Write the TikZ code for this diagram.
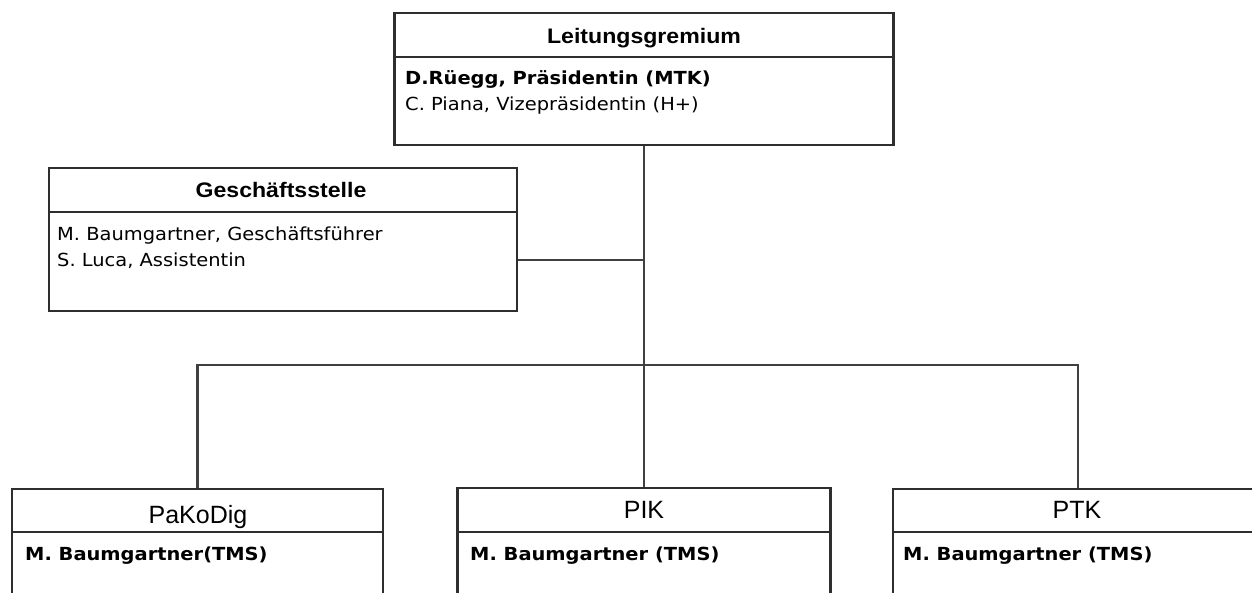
\documentclass[tikz,border=0pt]{standalone}
\usepackage{fontspec}
\setmainfont{DejaVu Sans}
\newfontfamily\hdfont[FakeStretch=1.1]{Liberation Sans}
\newfontfamily\ttlfont{Liberation Sans}
\newfontfamily\bdfont[FakeStretch=1.08]{DejaVu Sans}
\begin{document}
\begin{tikzpicture}[x=1pt,y=-1pt,
  box/.style={draw=black!82, line width=2.5pt, inner sep=0pt, fill=white},
  divline/.style={draw=black!82, line width=2.5pt},
  conn/.style={draw=black!75, line width=2.3pt},
  hdtext/.style={anchor=base, inner sep=0pt, font=\hdfont\bfseries\fontsize{21}{24}\selectfont},
  ttltext/.style={anchor=base, inner sep=0pt, font=\ttlfont\fontsize{25}{28}\selectfont},
  bodyb/.style={anchor=base west, inner sep=0pt, font=\bdfont\bfseries\fontsize{18}{22}\selectfont},
  bodyr/.style={anchor=base west, inner sep=0pt, font=\bdfont\fontsize{18}{22}\selectfont}]
\useasboundingbox (0,0) rectangle (1252,592);
\fill[white] (0,0) rectangle (1252,592);
\clip (0,0) rectangle (1252,592);

\coordinate (j1) at (644,260);
\coordinate (bus) at (644,365);

% boxes
\node[box, minimum width=499pt, minimum height=132pt] (lg) at (644,79) {};
\node[box, minimum width=468pt, minimum height=143pt] (gs) at (283,239.5) {};
\node[box, minimum width=371pt, minimum height=152pt] (pk) at (197.5,565) {};
\node[box, minimum width=373pt, minimum height=152pt] (pik) at (644,564) {};
\node[box, minimum width=370pt, minimum height=152pt] (ptk) at (1078,565) {};

% connectors
\draw[conn] (lg.south) -- (lg.south |- pik.north);
\draw[conn] (j1) -- (j1 -| gs.east);
\draw[conn] (pk.north) |- (bus) -| (ptk.north);

% dividers
\draw[divline] (lg.west |- 0,57) -- (lg.east |- 0,57);
\draw[divline] (gs.west |- 0,212) -- (gs.east |- 0,212);
\draw[divline] (pk.west |- 0,532) -- (pk.east |- 0,532);
\draw[divline] (pik.west |- 0,532) -- (pik.east |- 0,532);
\draw[divline] (ptk.west |- 0,532) -- (ptk.east |- 0,532);

% texts
\node[hdtext] (lgt) at (644,43) {Leitungsgremium};
\node[bodyb] (lg1) at (405,84) {D.Rüegg, Präsidentin (MTK)};
\node[bodyr] (lg2) at (405,110) {C. Piana, Vizepräsidentin (H+)};

\node[hdtext] (gst) at (281,197) {Geschäftsstelle};
\node[bodyr] (gs1) at (57,240) {M. Baumgartner, Geschäftsführer};
\node[bodyr] (gs2) at (57,266) {S. Luca, Assistentin};

\node[ttltext] (pkt) at (198,523) {PaKoDig};
\node[bodyb] (pk1) at (25,560) {M. Baumgartner(TMS)};

\node[ttltext] (pikt) at (644,518) {PIK};
\node[bodyb] (pik1) at (470,560) {M. Baumgartner (TMS)};

\node[ttltext] (ptkt) at (1077,518) {PTK};
\node[bodyb] (ptk1) at (903,560) {M. Baumgartner (TMS)};
\end{tikzpicture}
\end{document}
